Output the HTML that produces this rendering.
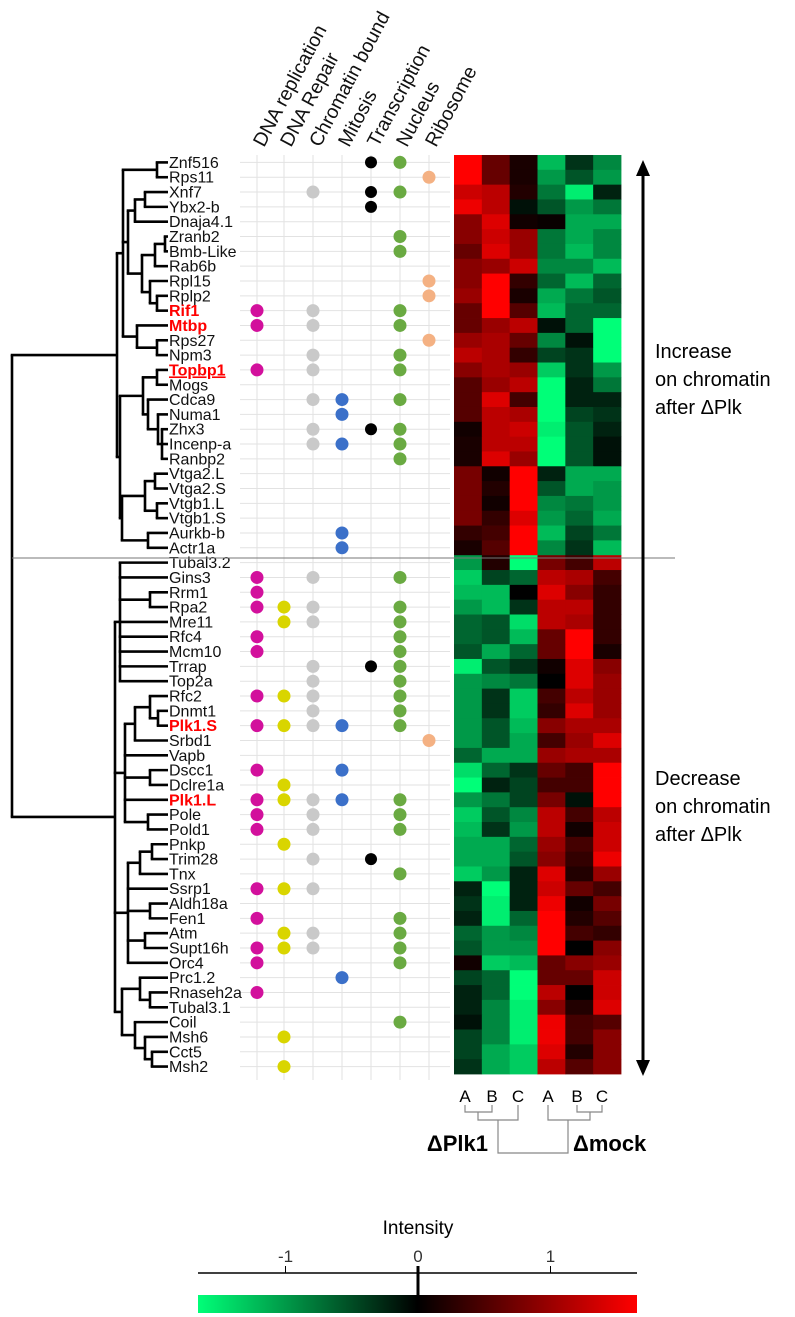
<!DOCTYPE html>
<html><head><meta charset="utf-8"><style>
body{margin:0;background:#fff;}
svg{display:block;font-family:"Liberation Sans",sans-serif;}
</style></head><body>
<svg id="fig" width="795" height="1317" viewBox="0 0 795 1317" xmlns="http://www.w3.org/2000/svg">
<g id="grid"></g>
<g id="dendro"></g>
<g id="labels"></g>
<g id="dots"></g>
<g id="heat"></g>
<g id="heads"></g>
<line x1="12" y1="558" x2="675" y2="558" stroke="#777" stroke-width="1"/>
<g>
<line x1="643" y1="172" x2="643" y2="1064" stroke="#000" stroke-width="3"/>
<polygon points="643,160 636,176 650,176" fill="#000"/>
<polygon points="643,1076 636,1060 650,1060" fill="#000"/>
</g>
<g font-size="20" fill="#000">
<text x="655" y="358">Increase</text><text x="655" y="386">on chromatin</text><text x="655" y="414">after ΔPlk</text>
</g>
<g font-size="20" fill="#000">
<text x="655" y="785">Decrease</text><text x="655" y="813">on chromatin</text><text x="655" y="841">after ΔPlk</text>
</g>
<g id="samples" font-size="17" text-anchor="middle"></g>
<g stroke="#888" stroke-width="1.2" fill="none">
<polyline points="465,1105 465,1112 492,1112 492,1105"/>
<polyline points="478,1112 478,1120 518,1120 518,1105"/>
<polyline points="577,1105 577,1112 602,1112 602,1105"/>
<polyline points="590,1112 590,1120 548,1120 548,1105"/>
<polyline points="498,1120 498,1153 568,1153 568,1120"/>
</g>
<text x="488" y="1151" font-size="22" font-weight="bold" text-anchor="end">ΔPlk1</text>
<text x="573" y="1151" font-size="22" font-weight="bold">Δmock</text>
<g>
<defs><linearGradient id="cg" x1="0" x2="1"><stop offset="0" stop-color="#00ff78"/><stop offset="0.5" stop-color="#000"/><stop offset="1" stop-color="#ff0000"/></linearGradient></defs>
<text x="418" y="1234" font-size="19" text-anchor="middle">Intensity</text>
<line x1="198" y1="1273" x2="637" y2="1273" stroke="#000" stroke-width="1.5"/>
<g id="cticks"></g>
<rect x="198" y="1295" width="439" height="18" fill="url(#cg)"/>
</g>
</svg>
<script>
const genes=["Znf516","Rps11","Xnf7","Ybx2-b","Dnaja4.1","Zranb2","Bmb-Like","Rab6b","Rpl15","Rplp2","Rif1","Mtbp","Rps27","Npm3","Topbp1","Mogs","Cdca9","Numa1","Zhx3","Incenp-a","Ranbp2","Vtga2.L","Vtga2.S","Vtgb1.L","Vtgb1.S","Aurkb-b","Actr1a","Tubal3.2","Gins3","Rrm1","Rpa2","Mre11","Rfc4","Mcm10","Trrap","Top2a","Rfc2"," Dnmt1","Plk1.S","Srbd1","Vapb","Dscc1","Dclre1a","Plk1.L","Pole","Pold1","Pnkp","Trim28","Tnx","Ssrp1","Aldh18a","Fen1","Atm","Supt16h","Orc4","Prc1.2","Rnaseh2a","Tubal3.1","Coil","Msh6","Cct5","Msh2"];
const highlighted=["Rif1","Mtbp","Topbp1","Plk1.S","Plk1.L"];
const samples=["A","B","C","A","B","C"];
const categories=["DNA replication","DNA Repair","Chromatin bound","Mitosis","Transcription","Nucleus","Ribosome"];
const catColors=["#d2109c","#d9d500","#c9c9c9","#3b70c9","#000000","#6aaa42","#f4b183"];
const dnaRep=[10,11,14,28,29,30,32,33,36,38,41,43,44,45,49,51,53,54,56];
const dnaRepair=[30,31,36,38,42,43,46,49,52,53,59,61];
const chromatin=[2,10,11,13,14,16,18,19,28,30,31,34,35,36,37,38,43,44,45,47,49,52,53];
const mitosis=[16,17,19,25,26,38,41,43,55];
const transcription=[0,2,3,18,34,47];
const nucleus=[0,2,5,6,10,11,13,14,16,18,19,20,28,30,31,32,33,34,35,36,37,38,43,44,45,48,51,52,53,54,58];
const ribosome=[1,8,9,12,39];
const scaleTicks=[-1,0,1];
const heat=[
[1.5,0.6,0.15,-1.1,-0.3,-0.8],[1.5,0.6,0.15,-0.9,-0.5,-0.9],[1.2,1.1,0.2,-0.7,-1.4,-0.2],[1.4,1.1,-0.1,-0.5,-0.9,-0.7],
[0.8,1.3,0.1,0.05,-1.0,-1.0],[0.8,1.2,0.9,-0.7,-1.0,-0.8],[0.6,1.3,0.9,-0.7,-1.1,-0.8],[0.8,0.9,1.2,-0.8,-0.8,-1.1],
[0.8,1.5,0.3,-0.6,-1.1,-0.6],[0.9,1.5,0.15,-1.0,-0.7,-0.5],[0.6,1.5,0.5,-1.1,-0.6,-0.6],[0.6,0.9,1.1,-0.1,-0.6,-1.6],
[0.9,1.0,0.6,-0.8,-0.1,-1.6],[1.1,1.0,0.3,-0.4,-0.3,-1.6],[0.8,1.0,0.9,-1.2,-0.3,-0.9],[0.5,0.9,1.1,-1.6,-0.2,-0.7],
[0.5,1.3,0.4,-1.7,-0.2,-0.2],[0.5,1.1,1.0,-1.7,-0.4,-0.3],[0.1,1.1,1.2,-1.4,-0.5,-0.2],[0.15,1.1,1.1,-1.7,-0.5,-0.1],
[0.15,1.3,0.9,-1.7,-0.5,-0.1],[0.7,0.1,1.5,-0.2,-1.0,-1.0],[0.7,0.2,1.5,-0.5,-1.0,-0.9],[0.7,0.1,1.5,-0.8,-0.7,-0.9],
[0.7,0.3,1.3,-0.9,-0.6,-1.0],[0.3,0.4,1.5,-1.1,-0.4,-0.7],[0.15,0.5,1.5,-0.8,-0.3,-1.1],
[-0.9,0.2,-1.6,0.7,0.4,1.1],[-1.2,-0.4,-0.6,1.1,1.0,0.4],[-1.1,-1.1,0.0,1.3,0.8,0.3],[-0.9,-1.1,-0.3,1.1,1.1,0.3],
[-0.6,-0.5,-1.3,1.1,1.0,0.3],[-0.6,-0.5,-1.1,0.6,1.5,0.3],[-0.5,-1.0,-0.6,0.6,1.5,0.15],[-1.4,-0.5,-0.3,0.1,1.3,0.8],
[-0.9,-0.8,-0.7,0.0,1.3,0.9],[-0.9,-0.3,-1.2,0.4,1.1,0.9],[-0.9,-0.3,-1.2,0.3,1.3,0.9],[-0.9,-0.5,-1.1,0.8,1.0,1.0],
[-0.9,-0.5,-1.0,0.4,0.9,1.3],[-0.6,-1.0,-1.0,0.9,1.0,1.0],[-1.3,-0.6,-0.3,0.6,0.4,1.5],[-1.5,-0.2,-0.4,0.4,0.4,1.5],
[-0.9,-0.7,-0.4,0.7,-0.1,1.5],[-1.2,-0.5,-0.8,1.1,0.4,1.1],[-1.1,-0.3,-0.9,1.1,0.1,1.2],[-1.0,-1.0,-0.6,0.9,0.4,1.2],
[-1.0,-1.0,-0.5,0.8,0.3,1.4],[-1.2,-0.9,-0.2,1.3,0.2,0.9],[-0.2,-1.7,-0.2,1.2,0.6,0.4],[-0.3,-1.4,-0.2,1.4,0.1,0.7],
[-0.2,-1.4,-0.6,1.5,0.2,0.5],[-0.6,-0.9,-0.8,1.5,0.4,0.3],[-0.5,-0.9,-0.9,1.5,0.0,0.8],[0.1,-1.2,-1.1,0.6,0.8,0.9],
[-0.4,-0.6,-1.5,0.6,0.6,1.2],[-0.2,-0.6,-1.5,1.1,0.0,1.2],[-0.2,-0.8,-1.4,0.8,0.2,1.3],[-0.1,-0.8,-1.4,1.4,0.4,0.5],
[-0.4,-0.8,-1.4,1.4,0.4,0.8],[-0.4,-1.0,-1.2,1.3,0.2,0.8],[-0.3,-1.0,-1.2,1.1,0.5,0.8]];
const tree={x:12,c:[
 {x:117,c:[
  {x:123,c:[{x:157,c:[0,1]},{x:128,c:[{x:135,c:[{x:145,c:[2,3]},4]},{x:142,c:[{x:155,c:[{x:165,c:[5,6]},7]},{x:150,c:[8,{x:157,c:[9,10]}]}]}]},{x:137,c:[11,{x:157,c:[12,13]}]}]},
  {x:120,c:[{x:143,c:[{x:157,c:[14,15]},{x:148,c:[16,{x:158,c:[17,{x:162,c:[18,19,20]}]}]}]},{x:122,c:[{x:145,c:[{x:155,c:[21,22]},{x:157,c:[23,24]}]},{x:148,c:[25,26]}]}]}]},
 {x:115,c:[{x:120,c:[27,28,{x:150,c:[29,30]},31,32,33,34,35]},
  {x:125,c:[{x:135,c:[{x:150,c:[36,{x:158,c:[37,38]}]},39]},40,{x:150,c:[41,42]},43,{x:148,c:[44,45]}]},
  {x:128,c:[{x:140,c:[{x:152,c:[46,47]},48]},49,{x:150,c:[50,51]},{x:145,c:[52,53]},54]},
  {x:122,c:[{x:140,c:[55,{x:150,c:[56,57]}]},{x:135,c:[58,{x:145,c:[59,{x:152,c:[60,61]}]}]}]}]}]};

const NS="http://www.w3.org/2000/svg";
const top0=155, rowH=(1074-155)/62, hx0=454, colW=(621-454)/6;
const catX=[257,284,313,342,371,400,429];
const yOf=i=>top0+rowH*(i+0.5);
const sx=v=>418+(v)*((558-293)/2);
function mk(tag,attrs,parent){const e=document.createElementNS(NS,tag);for(const k in attrs)e.setAttribute(k,attrs[k]);parent.appendChild(e);return e;}
function color(v){const t=Math.min(1,Math.abs(v)/1.5);if(v>=0)return `rgb(${Math.round(255*t)},0,0)`;return `rgb(0,${Math.round(255*t)},${Math.round(120*t)})`;}

const grid=document.getElementById('grid');
for(let i=0;i<genes.length;i++){const l=mk('line',{x1:240,x2:450,y1:yOf(i),y2:yOf(i),stroke:'#e2e2e2','stroke-width':1},grid);

}
catX.forEach(x=>{const l=mk('line',{x1:x,x2:x,y1:155,y2:1080,stroke:'#e2e2e2','stroke-width':1},grid);

});

const labels=document.getElementById('labels');
genes.forEach((g,i)=>{const hl=highlighted.includes(g.trim());
const t=mk('text',{x:169,y:yOf(i)+5.5,'font-size':16,fill:hl?'#ff0000':'#111','font-weight':hl?'bold':'normal'},labels);
t.textContent=g;
if(g==='Topbp1')t.setAttribute('text-decoration','underline');

});

const dend=document.getElementById('dendro');
function draw(n){if(typeof n==='number')return {x:168,y:yOf(n)};
const ch=n.c.map(draw);const ys=ch.map(c=>c.y);
const l=mk('line',{x1:n.x,x2:n.x,y1:Math.min(...ys),y2:Math.max(...ys),stroke:'#000','stroke-width':2.6},dend);


ch.forEach(c=>{const h=mk('line',{x1:n.x-1.3,x2:c.x,y1:c.y,y2:c.y,stroke:'#000','stroke-width':2.6},dend);

});
return {x:n.x,y:(Math.min(...ys)+Math.max(...ys))/2};}
draw(tree);

const dots=document.getElementById('dots');
[dnaRep,dnaRepair,chromatin,mitosis,transcription,nucleus,ribosome].forEach((arr,ci)=>{arr.forEach(i=>{
const c=mk('circle',{cx:catX[ci],cy:yOf(i),r:ci===4?6:6.5,fill:catColors[ci]},dots);

});});

const hg=document.getElementById('heat');
heat.forEach((row,i)=>row.forEach((v,j)=>{
const r=mk('rect',{x:hx0+j*colW,y:top0+i*rowH,width:colW+0.4,height:rowH+0.4,fill:color(v)},hg);

}));

const heads=document.getElementById('heads');
categories.forEach((c,i)=>{const t=mk('text',{x:0,y:0,'font-size':19.5,fill:'#111',transform:`translate(${catX[i]+7},148) rotate(-62)`},heads);
t.textContent=c;

});

const sg=document.getElementById('samples');
const sampX=[465,492,518,548,577,602];
samples.forEach((s,i)=>{const t=mk('text',{x:sampX[i],y:1102},sg);t.textContent=s;

});

const ct=document.getElementById('cticks');
scaleTicks.forEach(v=>{const x=sx(v);
const l=mk('line',{x1:x,x2:x,y1:1266,y2:v===0?1295:1273,stroke:'#000','stroke-width':v===0?3:1},ct);


const t=mk('text',{x:x,y:1262,'font-size':17,'text-anchor':'middle',fill:'#333'},ct);t.textContent=v;

});
</script>
</body></html>
